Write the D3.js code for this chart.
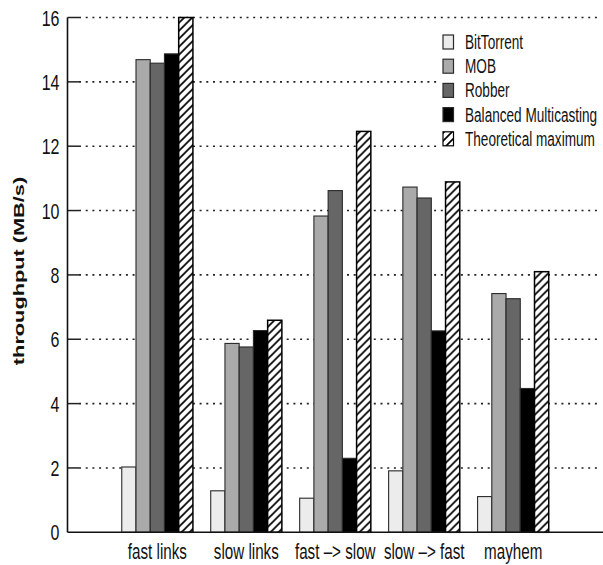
<!DOCTYPE html>
<html>
<head>
<meta charset="utf-8">
<script src="https://cdn.jsdelivr.net/npm/d3@7"></script>
<style>
  html, body { margin: 0; padding: 0; background: #fff; }
  svg { display: block; }
  text { font-family: "Liberation Sans", Arial, Helvetica, sans-serif; fill: #111; }
</style>
</head>
<body>
<svg id="chart" width="603" height="565"></svg>
<script>
// Scenario names along the x axis
const categories = ["fast links", "slow links", "fast –> slow", "slow –> fast", "mayhem"];

// Protocols compared in each scenario
const series = ["BitTorrent", "MOB", "Robber", "Balanced Multicasting", "Theoretical maximum"];

// Throughput in MB/s, one array per protocol, in scenario order
const bitTorrent = [2.03, 1.29, 1.06, 1.91, 1.11];
const mob        = [14.69, 5.87, 9.83, 10.73, 7.42];
const robber     = [14.58, 5.76, 10.62, 10.39, 7.26];
const balanced   = [14.87, 6.27, 2.30, 6.26, 4.47];
const theoretical = [16.0, 6.59, 12.46, 10.89, 8.10];

const yTicks = [0, 2, 4, 6, 8, 10, 12, 14, 16];

const seriesValues = [bitTorrent, mob, robber, balanced, theoretical];
const fills = ["#ececec", "#aaaaaa", "#666666", "#000000", "url(#hatch)"];

const svg = d3.select("#chart");
const TALL = 1.42; // vertical stretch applied to the lettering

// Diagonal hatch used for the theoretical maximum
const defs = svg.append("defs");
const pat = defs.append("pattern")
  .attr("id", "hatch")
  .attr("patternUnits", "userSpaceOnUse")
  .attr("width", 8).attr("height", 8);
pat.append("rect").attr("width", 8).attr("height", 8).attr("fill", "#fff");
pat.append("path")
  .attr("d", "M0,8 L8,0 M-2,2 L2,-2 M6,10 L10,6")
  .attr("stroke", "#000").attr("stroke-width", 1.7);

const y = d3.scaleLinear().domain([0, 16]).range([532.3, 17.5]);
const x0 = d3.scaleBand().domain(categories).range([67.5, 603])
  .paddingInner(0.2).paddingOuter(0.61);
const x1 = d3.scaleBand().domain(series).range([0, x0.bandwidth()]).padding(0);

// Dotted horizontal grid with short solid ticks pointing inward
const yAxis = d3.axisLeft(y).tickValues(yTicks).tickSize(0).tickFormat(d3.format("d"));
const gy = svg.append("g").attr("transform", "translate(67.5,0)").call(yAxis);
gy.select(".domain").remove();
gy.selectAll(".tick text").remove();

const grid = svg.append("g");
grid.selectAll("line.grid")
  .data(yTicks.filter(d => d > 0))
  .join("line")
  .attr("class", "grid")
  .attr("x1", 79).attr("x2", 600)
  .attr("y1", d => y(d)).attr("y2", d => y(d))
  .attr("stroke", "#222").attr("stroke-width", 1.6)
  .attr("stroke-dasharray", "2,4.7");
grid.selectAll("line.tk")
  .data(yTicks.filter(d => d > 0))
  .join("line")
  .attr("class", "tk")
  .attr("x1", 67.5).attr("x2", 79)
  .attr("y1", d => y(d)).attr("y2", d => y(d))
  .attr("stroke", "#222").attr("stroke-width", 1.5);

// Tick labels
svg.append("g").selectAll("text")
  .data(yTicks)
  .join("text")
  .attr("transform", d => `translate(59.5,${y(d) + 8}) scale(1,${TALL})`)
  .attr("text-anchor", "end")
  .attr("font-size", 16)
  .text(d => d);

// Bars
const groups = svg.append("g").selectAll("g")
  .data(categories)
  .join("g")
  .attr("transform", d => `translate(${x0(d)},0)`);

groups.selectAll("rect")
  .data((c, ci) => series.map((s, si) => ({ s, si, v: seriesValues[si][ci] })))
  .join("rect")
  .attr("x", d => x1(d.s))
  .attr("width", x1.bandwidth())
  .attr("y", d => y(d.v))
  .attr("height", d => y(0) - y(d.v))
  .attr("fill", d => fills[d.si])
  .attr("stroke", d => d.si === 4 ? "#000" : "#2a2a2a")
  .attr("stroke-width", d => d.si === 4 ? 1.5 : 1.1);

// Axis lines
svg.append("line")
  .attr("x1", 67.5).attr("x2", 67.5).attr("y1", 17.5).attr("y2", 532.3)
  .attr("stroke", "#111").attr("stroke-width", 1.6);
svg.append("line")
  .attr("x1", 67.5).attr("x2", 603).attr("y1", 532.3).attr("y2", 532.3)
  .attr("stroke", "#111").attr("stroke-width", 1.6);

// Category labels
svg.append("g").selectAll("text")
  .data(categories)
  .join("text")
  .attr("transform", d => `translate(${x0(d) + x0.bandwidth() / 2},559) scale(1,${TALL})`)
  .attr("text-anchor", "middle")
  .attr("font-size", 15.2)
  .text(d => d);

// Y axis title
svg.append("text")
  .attr("transform", `translate(24,271) rotate(-90) scale(1.5,1)`)
  .attr("text-anchor", "middle")
  .attr("font-size", 14.5)
  .attr("font-weight", "bold")
  .text("throughput (MB/s)");

// Legend
const legend = svg.append("g");
legend.append("rect")
  .attr("x", 437).attr("y", 27).attr("width", 166).attr("height", 128)
  .attr("fill", "#fff");
const rowY = i => 42 + i * 24.2;
const items = legend.selectAll("g.item")
  .data(series)
  .join("g")
  .attr("class", "item");
items.append("rect")
  .attr("x", 443).attr("y", (d, i) => rowY(i) - 7)
  .attr("width", 10.5).attr("height", 14)
  .attr("fill", (d, i) => fills[i])
  .attr("stroke", (d, i) => i === 4 ? "#000" : "#2a2a2a")
  .attr("stroke-width", 1.2);
items.append("text")
  .attr("transform", (d, i) => `translate(465,${rowY(i) + 7}) scale(1,${TALL})`)
  .attr("font-size", 13.6)
  .text(d => d);
</script>
</body>
</html>
